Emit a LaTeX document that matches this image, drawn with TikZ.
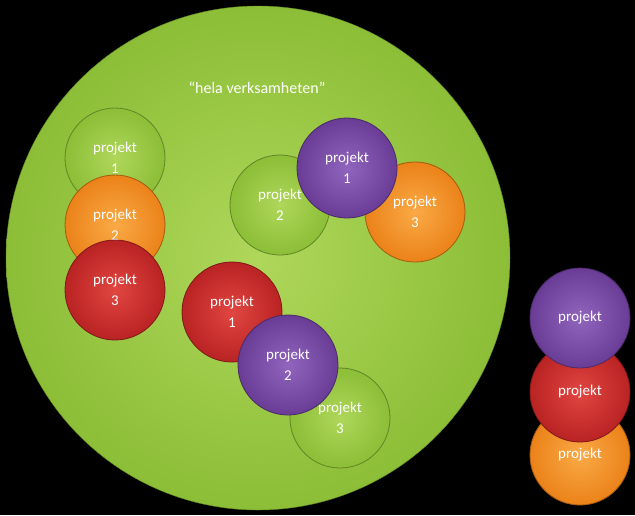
\documentclass[tikz,border=0pt]{standalone}
\usepackage{fontspec}
\setmainfont{Carlito}
\definecolor{gr}{RGB}{140,190,55}
\definecolor{grl}{RGB}{175,215,90}
\definecolor{orc}{RGB}{235,130,25}
\definecolor{orl}{RGB}{250,170,70}
\definecolor{rdc}{RGB}{185,35,35}
\definecolor{rdl}{RGB}{225,70,65}
\definecolor{pu}{RGB}{105,60,150}
\definecolor{pul}{RGB}{145,100,190}
\tikzset{
 ball/.style={circle,minimum size=100pt,inner sep=0pt,text=white,align=center,font=\fontsize{15}{21}\selectfont,draw=#1!70!black,line width=0.8pt},
 gball/.style={ball=gr,inner color=grl,outer color=gr},
 oball/.style={ball=orc,inner color=orl,outer color=orc},
 rball/.style={ball=rdc,inner color=rdl,outer color=rdc},
 pball/.style={ball=pu,inner color=pul,outer color=pu}
}
\begin{document}
\begin{tikzpicture}[x=1pt,y=-1pt]
\fill[black] (0,0) rectangle (635,515);
\useasboundingbox (0,0) rectangle (635,515);
\node[circle,minimum size=504pt,inner sep=0pt,inner color=grl,outer color=gr,draw=gr!70!black] (big) at (258,258) {};
\node[text=white,font=\fontsize{16}{19}\selectfont] (t) at (257,88) {“hela verksamheten”};
\node[gball] (a1) at (115,158) {projekt\\1};
\node[oball] (a2) at (115,225) {projekt\\2};
\node[rball] (a3) at (115,290) {projekt\\3};
\node[oball] (b3) at (415,212) {projekt\\3};
\node[gball] (b2) at (280,205) {projekt\\2};
\node[pball] (b1) at (347,168) {projekt\\1};
\node[rball] (c1) at (232,312) {projekt\\1};
\node[gball] (c3) at (340,418) {projekt\\3};
\node[pball] (c2) at (288,365) {projekt\\2};
\node[oball] (d3) at (580,455) {projekt};
\node[rball] (d2) at (580,392) {projekt};
\node[pball] (d1) at (580,318) {projekt};
\end{tikzpicture}
\end{document}
